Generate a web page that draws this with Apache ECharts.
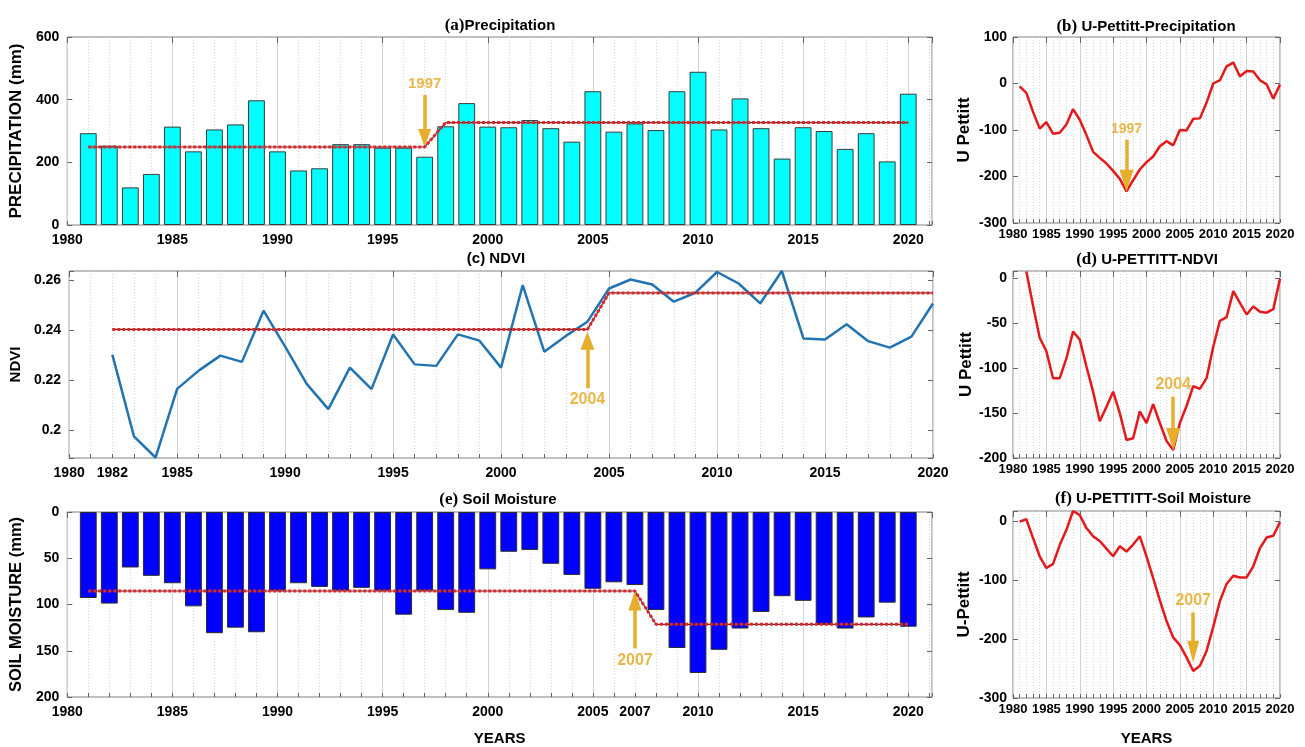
<!DOCTYPE html>
<html>
<head>
<meta charset="utf-8">
<script src="https://cdn.jsdelivr.net/npm/echarts@6/dist/echarts.min.js"></script>
<style>
  html, body { margin: 0; padding: 0; background: #fff; }
  #chart { width: 1305px; height: 747px; }
</style>
</head>
<body>
<div id="chart"></div>
<script>
// ---- Annual series, 1981-2020 ----
const years = [1981, 1982, 1983, 1984, 1985, 1986, 1987, 1988, 1989, 1990,
               1991, 1992, 1993, 1994, 1995, 1996, 1997, 1998, 1999, 2000,
               2001, 2002, 2003, 2004, 2005, 2006, 2007, 2008, 2009, 2010,
               2011, 2012, 2013, 2014, 2015, 2016, 2017, 2018, 2019, 2020];

const precipitation = [293, 253, 120, 163, 314, 235, 305, 321, 398, 235,
                       174, 181, 258, 258, 247, 247, 218, 315, 389, 314,
                       312, 335, 309, 266, 427, 298, 324, 303, 427, 489,
                       305, 404, 309, 212, 312, 300, 243, 293, 203, 419];

const precipPettitt = [-6, -20, -61, -97, -83, -108, -106, -88, -55, -78,
                       -111, -147, -160, -172, -188, -205, -232, -208, -185, -169,
                       -157, -135, -124, -133, -100, -101, -76, -75, -41, 0,
                       7, 37, 45, 15, 27, 26, 7, -2, -33, -2];

const soilMoisture = [93, 99, 60, 69, 77, 102, 131, 125, 130, 85,
                      77, 81, 85, 82, 85, 111, 85, 106, 109, 62,
                      43, 41, 56, 68, 83, 76, 79, 106, 147, 174,
                      149, 126, 108, 91, 96, 121, 126, 114, 98, 124];

const soilPettitt = [0, 4, -28, -59, -79, -72, -40, -14, 18, 11,
                     -11, -25, -33, -46, -59, -42, -51, -39, -25, -59,
                     -96, -134, -169, -197, -210, -231, -254, -245, -220, -179,
                     -135, -106, -92, -95, -95, -76, -45, -27, -24, -1];

// ---- NDVI series, 1982-2020 ----
const ndviYears = [1982, 1983, 1984, 1985, 1986, 1987, 1988, 1989, 1990,
                   1991, 1992, 1993, 1994, 1995, 1996, 1997, 1998, 1999, 2000,
                   2001, 2002, 2003, 2004, 2005, 2006, 2007, 2008, 2009, 2010,
                   2011, 2012, 2013, 2014, 2015, 2016, 2017, 2018, 2019, 2020];

const ndvi = [0.2302, 0.1975, 0.1890, 0.2165, 0.2238, 0.2298, 0.2273, 0.2478, 0.2334,
              0.2185, 0.2084, 0.2250, 0.2164, 0.2383, 0.2263, 0.2257, 0.2383, 0.2358, 0.2250,
              0.2580, 0.2314, 0.2377, 0.2434, 0.2567, 0.2603, 0.2583, 0.2514, 0.2550, 0.2633,
              0.2587, 0.2507, 0.2637, 0.2367, 0.2363, 0.2424, 0.2356, 0.2330, 0.2374, 0.2507];

const ndviPettitt = [8, -30, -66, -81, -111, -111, -89, -59, -68,
                     -98, -126, -159, -143, -126, -150, -180, -178, -148, -161,
                     -140, -161, -181, -191, -161, -142, -120, -123, -111, -76,
                     -47, -43, -14, -27, -40, -31, -37, -38, -34, 0];

// ---- Pettitt change points and segment means (before, after) ----
const precipChangeYear = 1997;
const precipMeans = [249, 327];
const ndviChangeYear = 2004;
const ndviMeans = [0.2403, 0.2549];
const soilChangeYear = 2007;
const soilMeans = [85.4, 121.4];

// ---- Tick labels ----
const fiveYearLabels = [1980, 1985, 1990, 1995, 2000, 2005, 2010, 2015, 2020];
const ndviYearLabels = [1980, 1982, 1985, 1990, 1995, 2000, 2005, 2010, 2015, 2020];
const soilYearLabels = [1980, 1985, 1990, 1995, 2000, 2005, 2007, 2010, 2015, 2020];

// ---------------------------------------------------------------
const SANS = "'Liberation Sans', Arial, Helvetica, sans-serif";
const SERIF = "'Liberation Serif', 'Times New Roman', serif";
const BOLD = { color: '#000', fontWeight: 'bold', fontFamily: SANS };
const RED = '#e3191c';
const ARROW = '#e6ae2c';
const ARROW_TEXT = '#e8b84a';

const grids = [], xAxes = [], yAxes = [], series = [], titles = [];

function pairs(xs, ys) { return xs.map((x, i) => [x, ys[i]]); }

function shiftLine(start, change, end, means) {
  return [[start, means[0]], [change, means[0]], [change + 1, means[1]], [end, means[1]]];
}

// Change-point arrow: shaft from `from` to `to` at the change year, head at `to`.
function arrow(year, from, to, text, fontSize, head) {
  return {
    silent: true,
    animation: false,
    symbol: ['none', 'triangle'],
    lineStyle: { color: ARROW, width: 3.5, type: 'solid', opacity: 1 },
    itemStyle: { color: ARROW },
    label: {
      show: true, position: 'start', formatter: text, distance: 4,
      color: ARROW_TEXT, fontSize: fontSize, fontWeight: 'bold', fontFamily: SANS
    },
    emphasis: { disabled: true },
    data: [[
      { coord: [year, from], symbol: 'none' },
      { coord: [year, to], symbol: 'triangle', symbolSize: head, itemStyle: { color: ARROW } }
    ]]
  };
}

function addTitle(cx, top, tag, text, tagSerif) {
  titles.push({
    left: cx, top: top, textAlign: 'center',
    text: '{p|' + tag + '}{t|' + text + '}',
    textStyle: {
      rich: {
        p: tagSerif
          ? { fontFamily: SERIF, fontSize: 17, color: '#000' }
          : { fontFamily: SANS, fontSize: 15, fontWeight: 'bold', color: '#000' },
        t: { fontFamily: SANS, fontSize: 15, fontWeight: 'bold', color: '#000' }
      }
    }
  });
}

// Builds one framed panel: grid, bottom/top x axes, left/right y axes.
function addPanel(p) {
  const g = grids.length;
  grids.push(Object.assign({ show: true, borderColor: '#808080', borderWidth: 1 }, p.box));

  const xi = xAxes.length;
  xAxes.push({
    gridIndex: g, type: 'value', position: 'bottom',
    min: p.x[0], max: p.x[1], interval: 1,
    axisLine: { show: false, onZero: false },
    axisTick: { show: true, inside: true, length: 4, lineStyle: { color: '#666' } },
    axisLabel: Object.assign({}, BOLD, {
      fontSize: p.xfs, margin: p.xm,
      formatter: v => (p.xLabels.indexOf(v) >= 0 ? String(v) : '')
    }),
    splitLine: { show: true, lineStyle: { color: '#d6d6d6', width: 1, type: [1, 2] } },
    name: p.xName || '', nameLocation: 'middle', nameGap: p.xNameGap || 30,
    nameTextStyle: Object.assign({}, BOLD, { fontSize: 15 })
  });
  xAxes.push({
    gridIndex: g, type: 'value', position: 'top',
    min: p.x[0], max: p.x[1], interval: 5,
    axisLine: { show: false, onZero: false },
    axisTick: { show: true, inside: true, length: 6, lineStyle: { color: '#666' } },
    axisLabel: { show: false },
    splitLine: { show: true, lineStyle: { color: '#d3d3d3', width: 1 } }
  });

  const yi = yAxes.length;
  const yBase = {
    gridIndex: g, type: 'value', min: p.y.min, max: p.y.max, inverse: !!p.y.inverse,
    axisLine: { show: false, onZero: false },
    axisTick: { show: true, inside: true, length: 5, lineStyle: { color: '#666' } },
    splitLine: { show: false }
  };
  if (p.y.interval) yBase.interval = p.y.interval;
  if (p.y.splitNumber) yBase.splitNumber = p.y.splitNumber;
  yAxes.push(Object.assign({}, yBase, {
    position: 'left',
    axisLabel: Object.assign({}, BOLD, { fontSize: p.yfs, margin: p.ym, formatter: p.yfmt }),
    name: p.yName, nameLocation: 'middle', nameRotate: 90, nameGap: p.yNameGap,
    nameTextStyle: Object.assign({}, BOLD, { fontSize: p.yNameSize })
  }));
  yAxes.push(Object.assign({}, yBase, { position: 'right', axisLabel: { show: false } }));
  return { x: xi, y: yi };
}

const stepLabel = step => v => (Math.abs(v / step - Math.round(v / step)) < 1e-6 ? String(+v.toFixed(2)) : '');

// (a) Precipitation
const A = addPanel({
  box: { left: 61, top: 37, width: 871, height: 188 },
  x: [1980, 2021.13], xLabels: fiveYearLabels, xfs: 14, xm: 8,
  y: { min: 0, max: 600, interval: 200 }, yfs: 14, ym: 8, yfmt: stepLabel(200),
  yName: 'PRECIPITATION (mm)', yNameGap: 34, yNameSize: 17
});
// (b) Pettitt statistic for precipitation
const B = addPanel({
  box: { left: 1013, top: 37, width: 267, height: 186 },
  x: [1980, 2020], xLabels: fiveYearLabels, xfs: 13, xm: 5,
  y: { min: -300, max: 100, interval: 100 }, yfs: 14, ym: 6, yfmt: stepLabel(100),
  yName: 'U Pettitt', yNameGap: 40, yNameSize: 17
});
// (c) NDVI
const C = addPanel({
  box: { left: 59, top: 271, width: 874, height: 187 },
  x: [1980, 2020], xLabels: ndviYearLabels, xfs: 14, xm: 8,
  y: { min: 0.1888, max: 0.2637, splitNumber: 4 }, yfs: 14, ym: 8, yfmt: stepLabel(0.02),
  yName: 'NDVI', yNameGap: 34, yNameSize: 15
});
// (d) Pettitt statistic for NDVI
const D = addPanel({
  box: { left: 1013, top: 271, width: 267, height: 187 },
  x: [1980, 2020], xLabels: fiveYearLabels, xfs: 13, xm: 5,
  y: { min: -200, max: 8.5, interval: 50 }, yfs: 14, ym: 6, yfmt: stepLabel(50),
  yName: 'U Pettitt', yNameGap: 31, yNameSize: 17
});
// (e) Soil moisture
const E = addPanel({
  box: { left: 61, top: 512, width: 871, height: 187 },
  x: [1980, 2021.13], xLabels: soilYearLabels, xfs: 14, xm: 8,
  xName: 'YEARS', xNameGap: 34,
  y: { min: 0, max: 200, interval: 50, inverse: true }, yfs: 14, ym: 8, yfmt: stepLabel(50),
  yName: 'SOIL MOISTURE (mm)', yNameGap: 34, yNameSize: 16.5
});
// (f) Pettitt statistic for soil moisture
const F = addPanel({
  box: { left: 1013, top: 511, width: 267, height: 188 },
  x: [1980, 2020], xLabels: fiveYearLabels, xfs: 13, xm: 5,
  xName: 'YEARS', xNameGap: 33,
  y: { min: -300, max: 18, interval: 100 }, yfs: 14, ym: 6, yfmt: stepLabel(100),
  yName: 'U-Pettitt', yNameGap: 40, yNameSize: 17
});

addTitle(495, 12, '(a)', 'Precipitation', true);
addTitle(1141, 13, '(b) ', 'U-Pettitt-Precipitation', true);
addTitle(491, 246, '(c) ', 'NDVI', false);
addTitle(1142, 246, '(d) ', 'U-PETTITT-NDVI', true);
addTitle(493, 486, '(e) ', 'Soil Moisture', true);
addTitle(1148, 485, '(f) ', 'U-PETTITT-Soil Moisture', true);

const meanLineUnder = { color: '#5a3030', width: 1.2, type: 'solid' };
const meanLineTop = { color: '#e0262b', width: 3, type: [3, 2] };

function meanSeries(ax, data, withArrow) {
  series.push({
    type: 'line', xAxisIndex: ax.x, yAxisIndex: ax.y, data: data,
    symbol: 'none', silent: true, z: 4, lineStyle: meanLineUnder
  });
  const s = {
    type: 'line', xAxisIndex: ax.x, yAxisIndex: ax.y, data: data,
    symbol: 'none', silent: true, z: 5, lineStyle: meanLineTop
  };
  if (withArrow) s.markLine = withArrow;
  series.push(s);
}

function pettittSeries(ax, xs, ys, withArrow) {
  series.push({
    type: 'line', xAxisIndex: ax.x, yAxisIndex: ax.y, data: pairs(xs, ys),
    symbol: 'none', silent: true, z: 4,
    lineStyle: { color: RED, width: 2.5 },
    markLine: withArrow
  });
}

// (a)
series.push({
  type: 'bar', xAxisIndex: A.x, yAxisIndex: A.y, data: pairs(years, precipitation),
  barWidth: '80%', silent: true, z: 2,
  itemStyle: { color: '#00ffff', borderColor: '#3a3a3a', borderWidth: 1 }
});
meanSeries(A, shiftLine(1981, precipChangeYear, 2020, precipMeans),
  arrow(precipChangeYear, 415, 278, String(precipChangeYear), 15, [13, 18]));

// (b)
pettittSeries(B, years, precipPettitt,
  arrow(precipChangeYear, -121, -209, String(precipChangeYear), 14, [14, 22]));

// (c)
series.push({
  type: 'line', xAxisIndex: C.x, yAxisIndex: C.y, data: pairs(ndviYears, ndvi),
  symbol: 'none', silent: true, z: 3,
  lineStyle: { color: '#2273b1', width: 2.5 }
});
meanSeries(C, shiftLine(1982, ndviChangeYear, 2020, ndviMeans),
  arrow(ndviChangeYear, 0.2168, 0.2358, String(ndviChangeYear), 16, [14, 18]));

// (d)
pettittSeries(D, ndviYears, ndviPettitt,
  arrow(ndviChangeYear, -131.6, -178.8, String(ndviChangeYear), 16, [14, 22]));

// (e)
series.push({
  type: 'bar', xAxisIndex: E.x, yAxisIndex: E.y, data: pairs(years, soilMoisture),
  barWidth: '80%', silent: true, z: 2,
  itemStyle: { color: '#0000ff', borderColor: '#2a2a2a', borderWidth: 1 }
});
meanSeries(E, shiftLine(1981, soilChangeYear, 2020, soilMeans),
  arrow(soilChangeYear, 147.5, 95.8, String(soilChangeYear), 16, [13, 20]));

// (f)
pettittSeries(F, years, soilPettitt,
  arrow(soilChangeYear, -154.5, -221.2, String(soilChangeYear), 16, [12, 22]));

const chart = echarts.init(document.getElementById('chart'), null, { renderer: 'canvas' });
chart.setOption({
  animation: false,
  backgroundColor: '#fff',
  title: titles,
  grid: grids,
  xAxis: xAxes,
  yAxis: yAxes,
  series: series
});
</script>
</body>
</html>
